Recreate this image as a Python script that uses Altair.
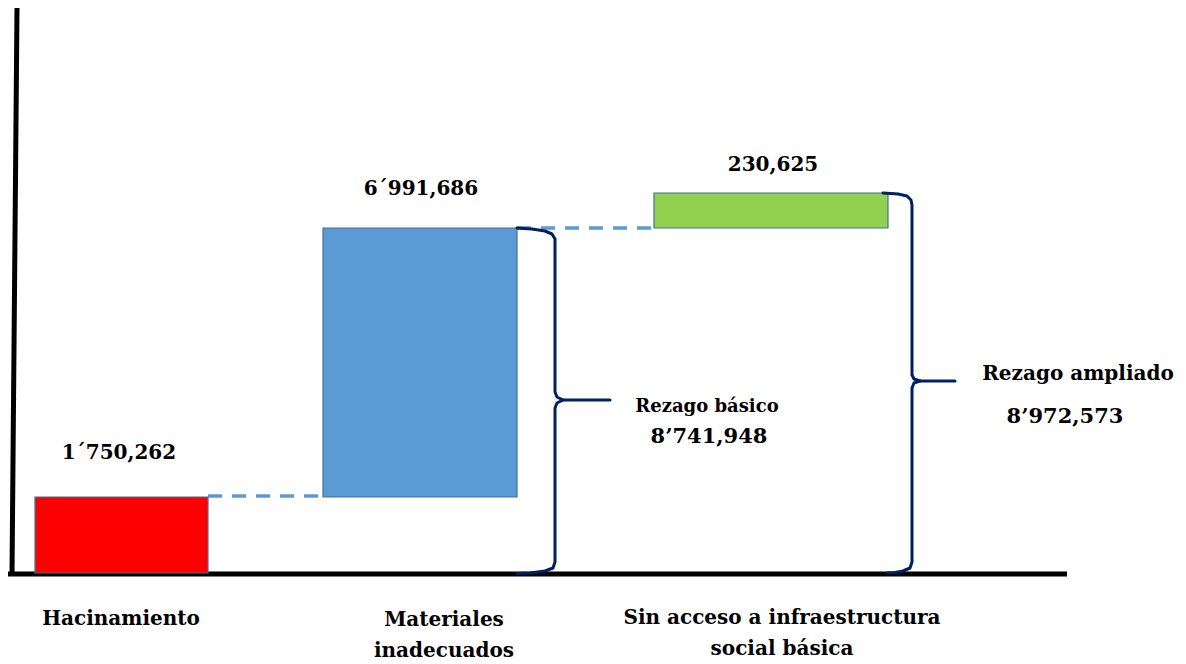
import altair as alt
import pandas as pd

# ---- data (schematic units; 0 = baseline) ----
categories = ["Hacinamiento", "Materiales inadecuados", "Sin acceso a infraestructura social básica"]
bar_x0 = [35, 323, 654]
bar_x1 = [208, 517, 888]
bar_y0 = [0, 76, 345]
bar_y1 = [76, 345, 380]
bar_colors = ["#FF0000", "#5B9BD5", "#92D050"]
value_labels = ["1´750,262", "6´991,686", "230,625"]
value_label_x = [119, 421, 773]
value_label_y = [114, 378, 402]

cat_lines = [["Hacinamiento"], ["Materiales", "inadecuados"], ["Sin acceso a infraestructura", "social básica"]]
cat_x = [121, 444, 782]
cat_y0 = [-52, -53, -51]
cat_line_gap = 31

# connectors (dashed)
conn_x0 = [208, 517]
conn_x1 = [323, 654]
conn_y = [77, 345]

# braces: (x, y) points
brace1_upper = [(517, 345), (532, 344), (545, 342), (552, 339), (555, 334), (555, 181), (557, 176), (563, 173), (610, 173)]
brace1_lower = [(563, 173), (557, 170), (555, 165), (555, 11), (553, 5), (545, 2), (530, 0), (517, -0.5)]
brace2_upper = [(883, 380), (898, 379), (907, 377), (911, 373), (912, 368), (912, 198), (914, 194), (920, 192), (955, 192)]
brace2_lower = [(920, 192), (914, 190), (912, 185), (912, 11), (910, 5), (903, 2), (895, 0.5), (887, 0)]

brace_texts = ["Rezago básico", "8’741,948", "Rezago ampliado", "8’972,573"]
brace_text_x = [707, 709, 1078, 1065]
brace_text_y = [161, 130, 193, 150]
brace_text_size = [18, 21, 20, 21]

FONT = "DejaVu Serif"
W, H = 1186, 664
BASE = 573

xs = alt.Scale(domain=[0, W])
ys = alt.Scale(domain=[BASE - H, BASE])

bars = pd.DataFrame({"cat": categories, "x0": bar_x0, "x1": bar_x1, "y0": bar_y0, "y1": bar_y1, "color": bar_colors})
rects = alt.Chart(bars).mark_rect(stroke="#41719C", strokeWidth=1.2).encode(
    x=alt.X("x0:Q", scale=xs, axis=None), x2="x1:Q",
    y=alt.Y("y0:Q", scale=ys, axis=None), y2="y1:Q",
    color=alt.Color("color:N", scale=None),
)

conn = pd.DataFrame({"x0": conn_x0, "x1": conn_x1, "y": conn_y})
conn_rules = alt.Chart(conn).mark_rule(color="#5B9BD5", strokeWidth=3.5, strokeDash=[14, 10]).encode(
    x=alt.X("x0:Q", scale=xs, axis=None), x2="x1:Q", y=alt.Y("y:Q", scale=ys, axis=None)
)

axes_df = pd.DataFrame({"id": ["y", "y", "x", "x"], "o": [0, 1, 0, 1],
                        "x": [17, 12, 8, 1067], "y": [565, -2, -1, -1]})
axes_lines = alt.Chart(axes_df).mark_line(color="#000000", strokeWidth=5).encode(
    x=alt.X("x:Q", scale=xs, axis=None), y=alt.Y("y:Q", scale=ys, axis=None),
    detail="id:N", order="o:Q"
)

rows = []
for bid, pts in [("b1u", brace1_upper), ("b1l", brace1_lower), ("b2u", brace2_upper), ("b2l", brace2_lower)]:
    for i, (x, y) in enumerate(pts):
        rows.append({"id": bid, "o": i, "x": x, "y": y})
braces = pd.DataFrame(rows)
brace_lines = alt.Chart(braces).mark_line(color="#002060", strokeWidth=3, strokeJoin="round", strokeCap="round").encode(
    x=alt.X("x:Q", scale=xs, axis=None), y=alt.Y("y:Q", scale=ys, axis=None),
    detail="id:N", order="o:Q"
)

vl = pd.DataFrame({"t": value_labels, "x": value_label_x, "y": value_label_y})
vtext = alt.Chart(vl).mark_text(font=FONT, fontWeight="bold", fontSize=20, color="#000000",
                                baseline="alphabetic").encode(
    x=alt.X("x:Q", scale=xs, axis=None), y=alt.Y("y:Q", scale=ys, axis=None), text="t:N"
)

crow = []
for lines, x, y0 in zip(cat_lines, cat_x, cat_y0):
    for j, line in enumerate(lines):
        crow.append({"t": line, "x": x, "y": y0 - j * cat_line_gap})
cl = pd.DataFrame(crow)
ctext = alt.Chart(cl).mark_text(font=FONT, fontWeight="bold", fontSize=20, color="#000000",
                                baseline="alphabetic").encode(
    x=alt.X("x:Q", scale=xs, axis=None), y=alt.Y("y:Q", scale=ys, axis=None), text="t:N"
)

bt = pd.DataFrame({"t": brace_texts, "x": brace_text_x, "y": brace_text_y, "s": brace_text_size})
btext = alt.Chart(bt).mark_text(font=FONT, fontWeight="bold", color="#000000", baseline="alphabetic").encode(
    x=alt.X("x:Q", scale=xs, axis=None), y=alt.Y("y:Q", scale=ys, axis=None), text="t:N",
    size=alt.Size("s:Q", scale=None)
)

chart = alt.layer(axes_lines, conn_rules, rects, brace_lines, vtext, ctext, btext).properties(
    width=W, height=H, padding=0, autosize=alt.AutoSizeParams(type="none"), background="white"
).configure_view(stroke=None)

chart.save("out.html", embed_options={"renderer": "svg", "actions": False})
